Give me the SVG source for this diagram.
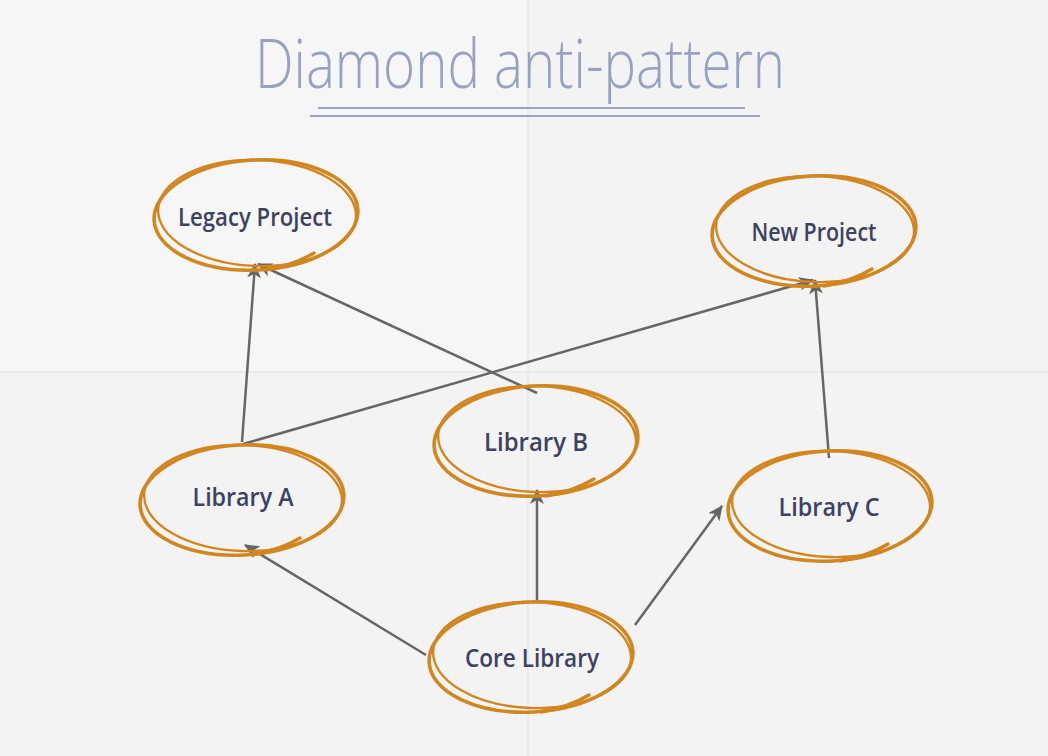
<svg xmlns="http://www.w3.org/2000/svg" width="1048" height="756" viewBox="0 0 1048 756">
<style>
.title{font-family:"Open Sans","Liberation Sans",sans-serif;font-weight:300;font-size:68px;fill:#98a1be}
.lbl{font-family:"Open Sans","Liberation Sans",sans-serif;font-weight:600;font-size:25px;fill:#3d4260;text-anchor:middle}
.ring{fill:none;stroke:#d2861f;stroke-linecap:round}
.conn{fill:none;stroke:#666;stroke-width:2.5;marker-end:url(#ah)}
</style>
<defs>
<marker id="ah" markerUnits="userSpaceOnUse" markerWidth="16" markerHeight="14" refX="14" refY="7" orient="auto">
<path d="M0,0 L15,7 L0,14 L4,7 Z" fill="#666"/>
</marker>
<g id="loop">
<ellipse class="ring" cx="0" cy="0" rx="102" ry="55" transform="rotate(-3)" stroke-width="3.6"/>
<ellipse class="ring" cx="1" cy="-2" rx="99" ry="53" transform="rotate(2)" stroke-width="2.4"/>
<path class="ring" d="M10,55 Q38,50 58,38" stroke-width="3.4"/>
</g>
</defs>
<rect width="1048" height="756" fill="#f3f3f3"/>
<rect width="528" height="372" fill="#f6f6f6"/>
<line x1="528" y1="0" x2="528" y2="756" stroke="#e9e9e9" stroke-width="1.5"/>
<line x1="0" y1="372" x2="1048" y2="372" stroke="#e7e7e7" stroke-width="1.5"/>
<g id="title">
<text class="title" x="255" y="88" textLength="530" lengthAdjust="spacingAndGlyphs">Diamond anti-pattern</text>
<line x1="318" y1="108" x2="745" y2="108" stroke="#98a1be" stroke-width="1.8"/>
<line x1="310" y1="116" x2="760" y2="116" stroke="#98a1be" stroke-width="1.8"/>
</g>
<g id="connectors">
<line class="conn" x1="242" y1="442" x2="255" y2="264"/>
<line class="conn" x1="243" y1="444" x2="813" y2="280"/>
<line class="conn" x1="537" y1="393" x2="258" y2="264"/>
<line class="conn" x1="829" y1="458" x2="815" y2="280"/>
<line class="conn" x1="537" y1="600" x2="537" y2="490"/>
<line class="conn" x1="426" y1="655" x2="245" y2="545"/>
<line class="conn" x1="635" y1="625" x2="722" y2="506"/>
</g>
<g id="legacy-project">
<use href="#loop" transform="translate(256,215)"/>
<text class="lbl" x="255" y="226" textLength="154" lengthAdjust="spacingAndGlyphs">Legacy Project</text>
</g>
<g id="new-project">
<use href="#loop" transform="translate(814,231)"/>
<text class="lbl" x="814" y="241" textLength="125" lengthAdjust="spacingAndGlyphs">New Project</text>
</g>
<g id="library-a">
<use href="#loop" transform="translate(242,500)"/>
<text class="lbl" x="243" y="506" textLength="101" lengthAdjust="spacingAndGlyphs">Library A</text>
</g>
<g id="library-b">
<use href="#loop" transform="translate(536,441)"/>
<text class="lbl" x="536" y="451" textLength="104" lengthAdjust="spacingAndGlyphs">Library B</text>
</g>
<g id="library-c">
<use href="#loop" transform="translate(830,506)"/>
<text class="lbl" x="829" y="516" textLength="101" lengthAdjust="spacingAndGlyphs">Library C</text>
</g>
<g id="core-library">
<use href="#loop" transform="translate(531,657)"/>
<text class="lbl" x="532" y="667" textLength="134" lengthAdjust="spacingAndGlyphs">Core Library</text>
</g>
</svg>
